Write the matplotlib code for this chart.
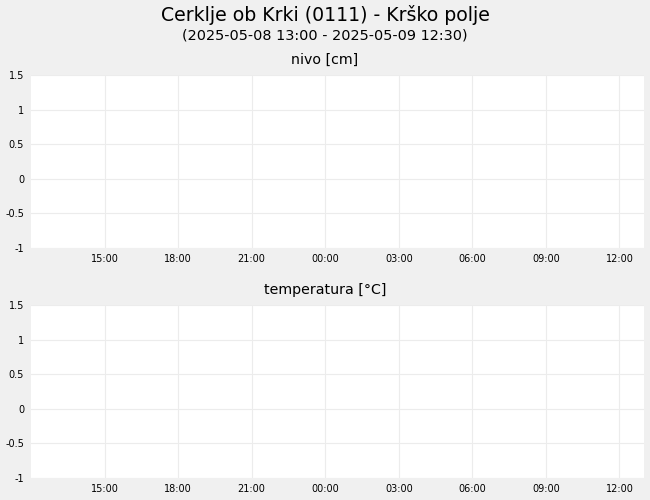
import matplotlib
matplotlib.use("Agg")
import matplotlib.pyplot as plt
import matplotlib.dates as mdates
import numpy as np
import pandas as pd

title = "Cerklje ob Krki (0111) - Krško polje"
subtitle = "(2025-05-08 13:00 - 2025-05-09 12:30)"
panel_titles = ["nivo [cm]", "temperatura [°C]"]

x_start = pd.Timestamp("2025-05-08 12:00")
x_end = pd.Timestamp("2025-05-09 13:00")
x_ticks = pd.date_range("2025-05-08 15:00", "2025-05-09 12:00", freq="3h")
y_ticks = [-1, -0.5, 0, 0.5, 1, 1.5]
y_labels = ["-1", "-0.5", "0", "0.5", "1", "1.5"]

# no measurements in the period
nivo_t, nivo_v = [], []
temp_t, temp_v = [], []

bg = "#f0f0f0"
grid = "#ececec"

fig = plt.figure(figsize=(6.5, 5), dpi=100, facecolor=bg)
W, H = 650, 500
boxes = [(31, 75, 644, 248), (31, 305, 644, 478)]
series = [(nivo_t, nivo_v), (temp_t, temp_v)]

fig.text(0.5, 1 - 15 / H, title, ha="center", va="center", fontsize=13.6)
fig.text(0.5, 1 - 35 / H, subtitle, ha="center", va="center", fontsize=10.4)

for (l, t, r, b), name, (xs, ys) in zip(boxes, panel_titles, series):
    ax = fig.add_axes([l / W, 1 - b / H, (r - l) / W, (b - t) / H])
    ax.set_facecolor("white")
    ax.plot(xs, ys, color="#1f5fbf")
    ax.set_xlim(x_start, x_end)
    ax.set_ylim(-1, 1.5)
    ax.set_yticks(y_ticks)
    ax.set_yticklabels(y_labels)
    ax.set_xticks(x_ticks)
    ax.xaxis.set_major_formatter(mdates.DateFormatter("%H:%M"))
    ax.tick_params(length=0, labelsize=7)
    ax.tick_params(axis="x", pad=4)
    ax.tick_params(axis="y", pad=5)
    ax.grid(True, color=grid, linewidth=0.8)
    ax.set_axisbelow(True)
    for s in ax.spines.values():
        s.set_visible(False)
    fig.text(0.5, 1 - (t - 15) / H, name, ha="center", va="center", fontsize=10.2)

fig.savefig("out.png", dpi=100, facecolor=bg)
